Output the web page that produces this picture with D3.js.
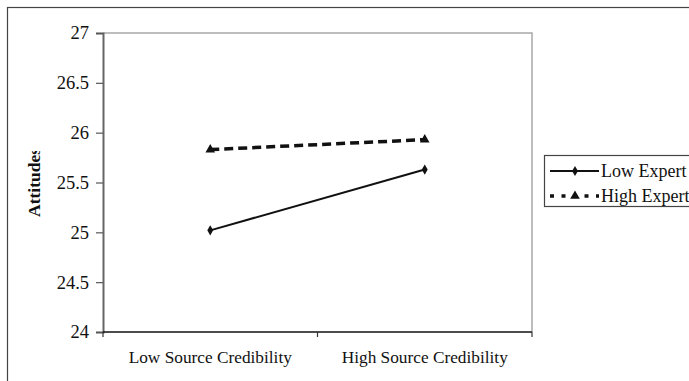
<!DOCTYPE html>
<html>
<head>
<meta charset="utf-8">
<script src="https://cdn.jsdelivr.net/npm/d3@7"></script>
<style>
  html, body { margin: 0; padding: 0; background: #fff; }
  svg { display: block; font-family: "Liberation Serif", "Times New Roman", serif; }
</style>
</head>
<body>
<svg id="chart" width="689" height="381"></svg>
<script>
// Categories along the x axis
const categories = ["Low Source Credibility", "High Source Credibility"];
// Mean attitude scores per expertise group
const lowExpert = [25.02, 25.63];
const highExpert = [25.83, 25.93];
const seriesNames = ["Low Expert", "High Expert"];
// Y axis ticks
const yTicks = [24, 24.5, 25, 25.5, 26, 26.5, 27];
const yTitle = "Attitudes";

const svg = d3.select("#chart");
const plot = { left: 103, right: 532, top: 33, bottom: 332 };

// outer frame
svg.append("rect")
  .attr("x", 7.5).attr("y", 7.5).attr("width", 720).attr("height", 420)
  .attr("fill", "none").attr("stroke", "#444").attr("stroke-width", 1.2);

const x = d3.scaleBand().domain(categories).range([plot.left, plot.right]).padding(0);
const y = d3.scaleLinear().domain([24, 27]).range([plot.bottom, plot.top]);

// plot area border (top and right, light gray)
svg.append("path")
  .attr("d", `M${plot.left},${plot.top}H${plot.right}V${plot.bottom}`)
  .attr("fill", "none").attr("stroke", "#a8a8a8").attr("stroke-width", 1.5);

// y axis
const yAxis = d3.axisLeft(y).tickValues(yTicks).tickSize(7).tickPadding(7)
  .tickFormat(d => String(d));
const gy = svg.append("g").attr("transform", `translate(${plot.left},0)`).call(yAxis);
gy.select(".domain").attr("stroke", "#666").attr("stroke-width", 2);
gy.selectAll(".tick line").attr("stroke", "#555").attr("stroke-width", 1.2);
gy.selectAll(".tick text")
  .attr("font-family", "Liberation Serif, serif").attr("font-size", 18.5)
  .attr("fill", "#111");

// x axis: ticks on category boundaries
const boundaries = [plot.left, plot.left + x.bandwidth(), plot.right];
const gx = svg.append("g");
gx.append("line")
  .attr("x1", plot.left).attr("x2", plot.right)
  .attr("y1", plot.bottom).attr("y2", plot.bottom)
  .attr("stroke", "#111").attr("stroke-width", 1.5);
gx.selectAll("line.tk").data(boundaries).join("line").attr("class", "tk")
  .attr("x1", d => d).attr("x2", d => d)
  .attr("y1", plot.bottom).attr("y2", plot.bottom + 5)
  .attr("stroke", "#333").attr("stroke-width", 1.2);
gx.selectAll("text").data(categories).join("text")
  .attr("x", d => x(d) + x.bandwidth() / 2)
  .attr("y", 363)
  .attr("text-anchor", "middle")
  .attr("font-size", 17.3)
  .attr("fill", "#111")
  .text(d => d);

// y axis title, clipped at the top
svg.append("clipPath").attr("id", "titleClip")
  .append("rect").attr("x", 0).attr("y", 151).attr("width", 80).attr("height", 120);
svg.append("g").attr("clip-path", "url(#titleClip)")
  .append("text")
  .attr("transform", "translate(40,217) rotate(-90)")
  .attr("font-size", 17.5).attr("font-weight", "bold").attr("fill", "#111")
  .text(yTitle);

const line = d3.line()
  .x((d, i) => x(categories[i]) + x.bandwidth() / 2)
  .y(d => y(d));

// Low Expert: solid line with diamonds
svg.append("path").datum(lowExpert)
  .attr("d", line).attr("fill", "none").attr("stroke", "#111").attr("stroke-width", 2);
const diamond = d3.symbol().type(d3.symbolDiamond).size(30);
svg.selectAll("path.lowpt").data(lowExpert).join("path").attr("class", "lowpt")
  .attr("d", diamond)
  .attr("transform", (d, i) => `translate(${x(categories[i]) + x.bandwidth() / 2},${y(d)})`)
  .attr("fill", "#111");

// High Expert: dashed line with triangles
svg.append("path").datum(highExpert)
  .attr("d", line).attr("fill", "none").attr("stroke", "#111")
  .attr("stroke-width", 3.5).attr("stroke-dasharray", "9,5");
const tri = d3.symbol().type(d3.symbolTriangle).size(40);
svg.selectAll("path.highpt").data(highExpert).join("path").attr("class", "highpt")
  .attr("d", tri)
  .attr("transform", (d, i) => `translate(${x(categories[i]) + x.bandwidth() / 2},${y(d)})`)
  .attr("fill", "#111");

// legend
const lg = svg.append("g");
lg.append("rect").attr("x", 544.5).attr("y", 155.5).attr("width", 200).attr("height", 51)
  .attr("fill", "#fff").attr("stroke", "#444").attr("stroke-width", 1.2);
const rows = [
  { name: seriesNames[0], y: 171, dash: null, w: 2, sym: diamond },
  { name: seriesNames[1], y: 196, dash: "4,7.5", w: 3.5, sym: tri }
];
rows.forEach(r => {
  lg.append("line").attr("x1", 550).attr("x2", 599).attr("y1", r.y).attr("y2", r.y)
    .attr("stroke", "#111").attr("stroke-width", r.w)
    .attr("stroke-dasharray", r.dash);
  lg.append("path").attr("d", r.sym).attr("transform", `translate(575,${r.y})`).attr("fill", "#111");
  lg.append("text").attr("x", 601).attr("y", r.y + 6)
    .attr("font-size", 18).attr("fill", "#111").text(r.name);
});
</script>
</body>
</html>
